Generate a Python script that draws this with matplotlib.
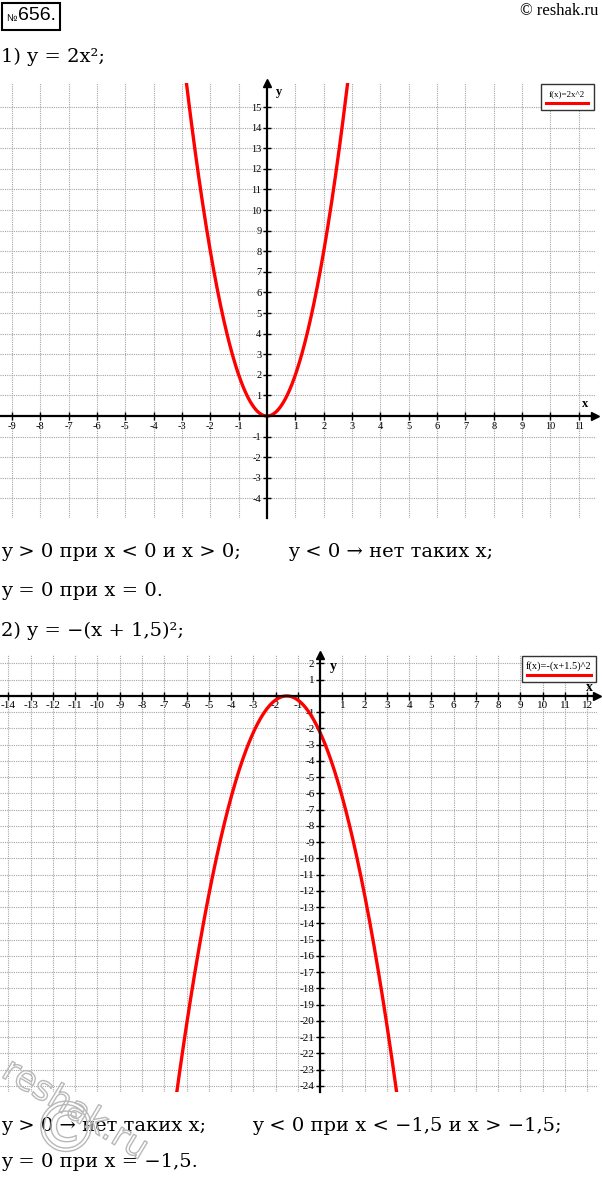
import numpy as np
import matplotlib.pyplot as plt
import matplotlib.patheffects as pe
from matplotlib.patches import Rectangle
from matplotlib.lines import Line2D
from matplotlib.offsetbox import AnchoredOffsetbox, TextArea, DrawingArea, VPacker

plt.rcParams['axes.unicode_minus'] = False
SERIF = ['Liberation Serif', 'DejaVu Serif']
BODY = ['DejaVu Serif', 'Liberation Serif']
NARROW = ['DejaVu Sans Condensed', 'Liberation Sans', 'DejaVu Sans']

W, H = 602, 1177

# graph 1: y = 2x^2
a1 = 2
x1_lim = (-9.42, 11.57)
y1_lim = (-4.95, 16.17)
x1_ticks = [t for t in range(-9, 12) if t != 0]
y1_ticks = [t for t in range(-4, 16) if t != 0]
legend1 = 'f(x)=2x^2'

# graph 2: y = -(x + 1.5)^2
h2 = 1.5
x2_lim = (-14.38, 12.44)
y2_lim = (-24.38, 2.52)
x2_ticks = [t for t in range(-14, 13) if t != 0]
y2_ticks = [t for t in range(-24, 3) if t != 0]
legend2 = 'f(x)=-(x+1.5)^2'

# text lines
site = '© reshak.ru'
task1 = '1) y = 2x²;'
ans1a = 'y > 0 при x < 0 и x > 0;'
ans1b = 'y < 0 → нет таких x;'
ans1c = 'y = 0 при x = 0.'
task2 = '2) y = −(x + 1,5)²;'
ans2a = 'y > 0 → нет таких x;'
ans2b = 'y < 0 при x < −1,5 и x > −1,5;'
ans2c = 'y = 0 при x = −1,5.'


def fx(px):
    return px / W


def fy(py):
    return 1 - py / H


def coord_axes(ax, xlim, ylim, xticks, yticks, fs):
    ax.set_xlim(*xlim)
    ax.set_ylim(*ylim)
    ax.patch.set_alpha(0)
    for s in ['top', 'right']:
        ax.spines[s].set_visible(False)
    for s in ['left', 'bottom']:
        ax.spines[s].set_position(('data', 0))
        ax.spines[s].set_linewidth(1.6)
    ax.set_xticks(xticks)
    ax.set_yticks(yticks)
    ax.set_xticklabels([str(t) for t in xticks], family=SERIF, fontsize=fs)
    ax.set_yticklabels([str(t) for t in yticks], family=SERIF, fontsize=fs)
    ax.tick_params(direction='inout', length=6, width=1, pad=1)
    ax.grid(True, ls=(0, (1, 1)), color='#a4a4a4', lw=0.8)
    ax.set_axisbelow(True)
    # arrow heads
    ax.plot(1, 0, '>k', ms=6, transform=ax.get_yaxis_transform(), clip_on=False)
    ax.plot(0, 1, '^k', ms=6, transform=ax.get_xaxis_transform(), clip_on=False)


def formula_box(ax, label, fs, width, pad):
    txt = TextArea(label, textprops=dict(fontsize=fs, family=SERIF))
    da = DrawingArea(width, 3)
    da.add_artist(Line2D([0, width], [1.5, 1.5], color='red', lw=2.2))
    pack = VPacker(children=[txt, da], align='center', pad=0, sep=2)
    box = AnchoredOffsetbox(loc='upper right', child=pack, pad=pad,
                            borderpad=0.1, frameon=True)
    box.patch.set_boxstyle('square', pad=0)
    box.patch.set_edgecolor('#333333')
    box.patch.set_linewidth(1)
    ax.add_artist(box)


fig = plt.figure(figsize=(W / 100, H / 100), dpi=100)

# header
fig.add_artist(Rectangle((fx(2), fy(30)), fx(58), 27 / H, transform=fig.transFigure,
                         fill=False, ec='black', lw=1.5))
fig.text(fx(6), fy(18), '№', fontsize=7, family=NARROW, va='center', ha='left')
fig.text(fx(18), fy(16), '656.', fontsize=14, family=NARROW, va='center', ha='left')
fig.text(fx(598), fy(11), site, fontsize=12, family=SERIF, va='center', ha='right')

body = dict(fontsize=14, family=BODY, va='baseline', ha='left')
fig.text(fx(1), fy(62), task1, **body)

# graph 1
ax1 = fig.add_axes([0, fy(518), fx(595), (518 - 83) / H])
coord_axes(ax1, x1_lim, y1_lim, x1_ticks, y1_ticks, 7.5)
xs = np.linspace(-3, 3, 400)
ax1.plot(xs, a1 * xs ** 2, color='red', lw=2.4)
ax1.text(0.3, 15.6, 'y', fontsize=9, fontweight='bold', family=SERIF)
ax1.text(11.1, 0.45, 'x', fontsize=9, fontweight='bold', family=SERIF)
formula_box(ax1, legend1, 6.5, 30, 0.4)

fig.text(fx(1), fy(557), ans1a, **body)
fig.text(fx(288), fy(557), ans1b, **body)
fig.text(fx(1), fy(596), ans1c, **body)
fig.text(fx(1), fy(636), task2, **body)

# graph 2
ax2 = fig.add_axes([0, fy(1092), fx(597), (1092 - 655) / H])
coord_axes(ax2, x2_lim, y2_lim, x2_ticks, y2_ticks, 8)
xs = np.linspace(-8, 5, 400)
ax2.plot(xs, -(xs + h2) ** 2, color='red', lw=2.4)
ax2.text(0.45, 1.6, 'y', fontsize=10, fontweight='bold', family=SERIF)
ax2.text(11.95, 0.28, 'x', fontsize=10, fontweight='bold', family=SERIF)
formula_box(ax2, legend2, 7.5, 46, 0.3)

fig.text(fx(1), fy(1131), ans2a, **body)
fig.text(fx(252), fy(1131), ans2b, **body)
fig.text(fx(1), fy(1167), ans2c, **body)

# watermark (outline only)
wm = [pe.Stroke(linewidth=1.0, foreground='#b8b8b8')]
fig.text(fx(0), fy(1076), 'reshak.ru', fontsize=25, color='none', rotation=-31,
         rotation_mode='anchor', family='DejaVu Sans', va='baseline', ha='left',
         path_effects=wm)
fig.text(fx(66), fy(1132), '©', fontsize=50, color='none', family='DejaVu Sans',
         va='center', ha='center', path_effects=wm)

fig.savefig('out.png', dpi=100)
